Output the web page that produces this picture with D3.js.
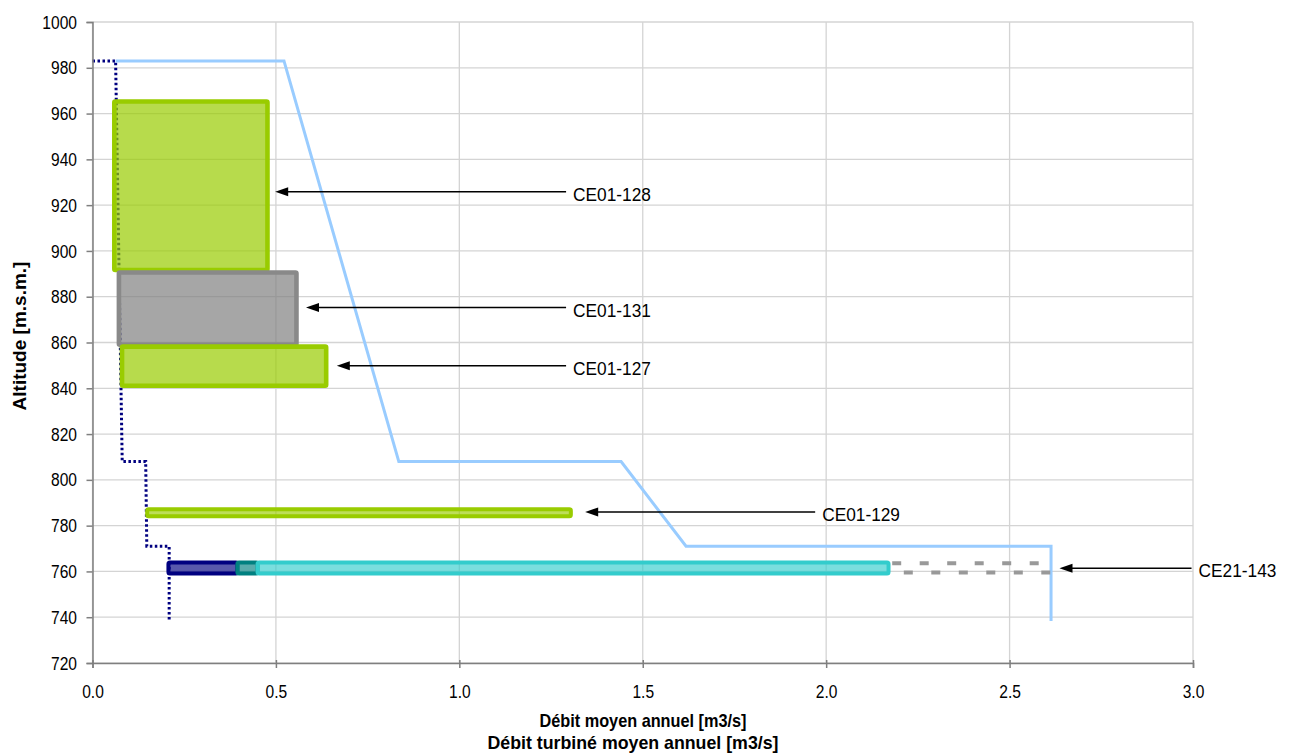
<!DOCTYPE html>
<html>
<head>
<meta charset="utf-8">
<script src="https://cdn.jsdelivr.net/npm/d3@7"></script>
<style>
  html, body { margin: 0; padding: 0; background: #fff; }
  svg { display: block; }
  text { font-family: "Liberation Sans", Arial, sans-serif; }
</style>
</head>
<body>
<svg id="chart" width="1291" height="754"></svg>
<script>
// ---------- data ----------
const xTicks = [0, 0.5, 1.0, 1.5, 2.0, 2.5, 3.0];
const yTicks = [720, 740, 760, 780, 800, 820, 840, 860, 880, 900, 920, 940, 960, 980, 1000];

// débit moyen annuel (light blue)
const flowX = [0.063, 0.522, 0.835, 1.441, 1.618, 2.613, 2.613];
const flowY = [983, 983, 808, 808, 771, 771, 738.4];

// débit turbiné moyen annuel (dotted navy)
const turbX = [0, 0.063, 0.081, 0.145, 0.148, 0.209, 0.209];
const turbY = [983, 983, 808, 808, 771, 771, 738.6];

// large boxes
const boxNames = ["CE01-128", "CE01-131", "CE01-127"];
const boxX0 = [0.0595, 0.072, 0.0805];
const boxX1 = [0.477, 0.556, 0.637];
const boxTop = [965.3, 890.6, 858.2];
const boxBot = [891.7, 859.0, 841.1];
const boxKind = ["green", "gray", "green"];

// thin bars
const barNames = ["CE01-129", "CE21-143a", "CE21-143b", "CE21-143c"];
const barX0 = [0.149, 0.207, 0.395, 0.450];
const barX1 = [1.304, 0.395, 0.450, 2.170];
const barTop = [787.2, 763.9, 763.9, 763.9];
const barBot = [784.1, 759.1, 759.1, 759.1];
const barKind = ["green", "navy", "teal", "cyan"];

// dashed extension (CE21-143)
const dashX0 = 2.18, dashX1 = 2.62;
const dashY = [763.6, 759.5];

// annotations
const annLabels = ["CE01-128", "CE01-131", "CE01-127", "CE01-129", "CE21-143"];
const annY = [925.8, 875.3, 849.8, 786.0, 761.4];
const annTipX = [0.498, 0.582, 0.666, 1.343, 2.636];
const annTailX = [1.291, 1.291, 1.291, 1.970, 2.996];

// ---------- drawing ----------
const svg = d3.select("#chart");
const m = { left: 92.5, top: 22, right: 1193, bottom: 663 };
const x = d3.scaleLinear().domain([0, 3]).range([m.left, m.right]);
const y = d3.scaleLinear().domain([720, 1000]).range([m.bottom, m.top]);
const SX = 0.82;   // horizontal condensing of tick labels
const SXA = 0.91;  // horizontal condensing of annotation labels

const styles = {
  green: { fill: "#99cc00", stroke: "#99cc00" },
  gray:  { fill: "#808080", stroke: "#898989" },
  navy:  { fill: "#000080", stroke: "#000080" },
  teal:  { fill: "#008080", stroke: "#008080" },
  cyan:  { fill: "#33cccc", stroke: "#33cccc" }
};

// gridlines
const grid = svg.append("g");
grid.selectAll("line.h").data(yTicks).join("line")
  .attr("x1", m.left).attr("x2", m.right)
  .attr("y1", d => y(d)).attr("y2", d => y(d))
  .attr("stroke", "#d4d4d4").attr("stroke-width", 1.3);
grid.selectAll("line.v").data(xTicks).join("line")
  .attr("y1", m.top).attr("y2", m.bottom)
  .attr("x1", d => x(d)).attr("x2", d => x(d))
  .attr("stroke", "#d4d4d4").attr("stroke-width", 1.3);

// dotted turbined curve
const turbPts = turbX.map((v, i) => [v, turbY[i]]);
const line = d3.line().x(d => x(d[0])).y(d => y(d[1]));
svg.append("path").attr("d", line(turbPts))
  .attr("fill", "none").attr("stroke", "#000080").attr("stroke-width", 3)
  .attr("stroke-dasharray", "2.5,2.5");

// flow curve
const flowPts = flowX.map((v, i) => [v, flowY[i]]);
svg.append("path").attr("d", line(flowPts))
  .attr("fill", "none").attr("stroke", "#99ccff").attr("stroke-width", 3)
  .attr("stroke-linejoin", "miter");

// boxes
boxNames.forEach((n, i) => {
  const s = styles[boxKind[i]];
  svg.append("rect")
    .attr("x", x(boxX0[i])).attr("y", y(boxTop[i]))
    .attr("width", x(boxX1[i]) - x(boxX0[i]))
    .attr("height", y(boxBot[i]) - y(boxTop[i]))
    .attr("fill", s.fill).attr("fill-opacity", 0.7)
    .attr("stroke", s.stroke).attr("stroke-width", 4.6)
    .attr("rx", 1);
});

// dashed extension
dashY.forEach((dy, i) => {
  svg.append("line")
    .attr("x1", x(dashX0)).attr("x2", x(dashX1))
    .attr("y1", y(dy)).attr("y2", y(dy))
    .attr("stroke", "#999999").attr("stroke-width", 4)
    .attr("stroke-dasharray", "9,18.5")
    .attr("stroke-dashoffset", i === 0 ? 0 : 15.9);
});

// thin bars
barNames.forEach((n, i) => {
  const s = styles[barKind[i]];
  svg.append("rect")
    .attr("x", x(barX0[i])).attr("y", y(barTop[i]))
    .attr("width", x(barX1[i]) - x(barX0[i]))
    .attr("height", y(barBot[i]) - y(barTop[i]))
    .attr("fill", s.fill).attr("fill-opacity", 0.65)
    .attr("stroke", s.stroke).attr("stroke-width", 4)
    .attr("rx", 1.5);
});

// axes
const yAxis = d3.axisLeft(y).tickValues(yTicks).tickSize(6).tickPadding(12.9).tickFormat(d3.format("d"));
const xAxis = d3.axisBottom(x).tickValues(xTicks).tickSize(5).tickPadding(17).tickFormat(d3.format(".1f"));
const gy = svg.append("g").attr("transform", `translate(${m.left},0)`).call(yAxis);
const gx = svg.append("g").attr("transform", `translate(0,${m.bottom})`).call(xAxis);
[gx, gy].forEach(g => {
  g.select(".domain").attr("stroke", "#7f7f7f").attr("stroke-width", 1.5);
  g.selectAll(".tick line").attr("stroke", "#7f7f7f").attr("stroke-width", 1.5);
  g.selectAll(".tick text").attr("fill", "#000").style("font-size", "19px")
    .style("font-family", '"Liberation Sans", Arial, sans-serif')
    .attr("transform", `scale(${SX},1)`);
});
// x-axis ticks cross the axis line slightly
gx.selectAll(".tick line").attr("y1", -3);

// annotations
annLabels.forEach((lab, i) => {
  const yy = y(annY[i]);
  const tip = x(annTipX[i]), tail = x(annTailX[i]);
  svg.append("line").attr("x1", tail).attr("x2", tip + 10).attr("y1", yy).attr("y2", yy)
    .attr("stroke", "#000").attr("stroke-width", 1.5);
  svg.append("path")
    .attr("d", `M${tip},${yy} L${tip + 13},${yy - 4.5} L${tip + 13},${yy + 4.5} Z`)
    .attr("fill", "#000");
  svg.append("text").attr("transform", `translate(${tail + 7},${yy + 2.5}) scale(${SXA},1)`)
    .attr("dy", "0.35em").style("font-size", "19px").attr("fill", "#000").text(lab);
});

// axis titles
svg.append("text").attr("x", 643).attr("y", 726.5).attr("text-anchor", "middle")
  .attr("textLength", 207).attr("lengthAdjust", "spacingAndGlyphs")
  .style("font-size", "19px").style("font-weight", "bold").text("Débit moyen annuel [m3/s]");
svg.append("text").attr("x", 633).attr("y", 749).attr("text-anchor", "middle")
  .attr("textLength", 291).attr("lengthAdjust", "spacingAndGlyphs")
  .style("font-size", "19px").style("font-weight", "bold").text("Débit turbiné moyen annuel [m3/s]");
svg.append("text").attr("transform", "translate(26,336) rotate(-90)").attr("text-anchor", "middle")
  .style("font-size", "19px").style("font-weight", "bold").text("Altitude  [m.s.m.]");
</script>
</body>
</html>
